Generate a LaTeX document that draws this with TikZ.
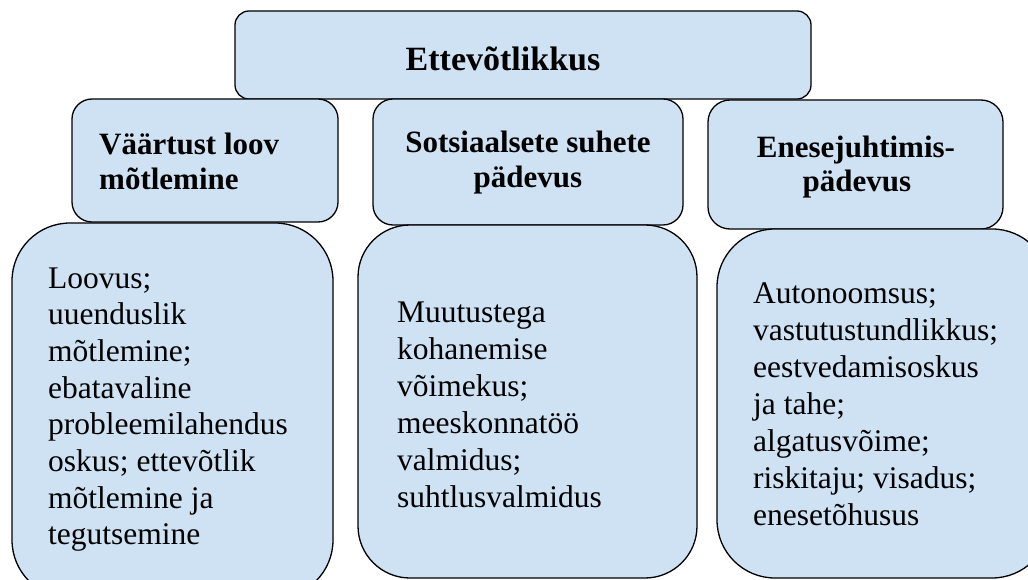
\documentclass[tikz,border=0pt]{standalone}
\usepackage{fontspec}
\setmainfont{Liberation Serif}
\definecolor{boxblue}{RGB}{207,226,243}
\tikzset{
  panel/.style={draw=black, line width=1.3pt, fill=boxblue, rectangle, inner sep=0pt, outer sep=0pt, anchor=north west},
  titletxt/.style={font=\fontsize{34}{40}\selectfont\bfseries, inner sep=0pt, anchor=base},
  headtxt/.style={font=\fontsize{31}{36}\selectfont\bfseries, inner sep=0pt},
  bodytxt/.style={font=\fontsize{31.5}{37}\selectfont, inner sep=0pt, anchor=base west}
}
\begin{document}
\begin{tikzpicture}[x=1pt, y=-1pt]
\useasboundingbox (0,0) rectangle (1028,580);
\clip (0,0) rectangle (1028,580);
% top box
\node[panel, rounded corners=14pt, minimum width=576pt, minimum height=88pt] (top) at (235,11) {};
\node[titletxt] (toptxt) at (503,71) {Ettevõtlikkus};
% headers
\node[panel, rounded corners=20pt, minimum width=266pt, minimum height=123pt] (h1) at (72,99) {};
\node[panel, rounded corners=20pt, minimum width=310pt, minimum height=126pt] (h2) at (373,99) {};
\node[panel, rounded corners=22pt, minimum width=295pt, minimum height=129pt] (h3) at (708,100) {};
% bodies
\node[panel, rounded corners=58pt, minimum width=321pt, minimum height=375pt] (b1) at (12,223) {};
\node[panel, rounded corners=52pt, minimum width=339pt, minimum height=353pt] (b2) at (358,225) {};
\node[panel, rounded corners=58pt, minimum width=333pt, minimum height=349pt] (b3) at (717,229) {};
% header texts
\node[headtxt, anchor=base west] (h1a) at (99,155) {Väärtust loov};
\node[headtxt, anchor=base west] (h1b) at (99,190) {mõtlemine};
\node[headtxt, anchor=base] (h2a) at (528,153) {Sotsiaalsete suhete};
\node[headtxt, anchor=base] (h2b) at (528,188) {pädevus};
\node[headtxt, anchor=base] (h3a) at (856,158) {Enesejuhtimis-};
\node[headtxt, anchor=base] (h3b) at (857,192) {pädevus};
% body texts
\foreach \t [count=\i] in {Loovus;, uuenduslik, mõtlemine;, ebatavaline, probleemilahendus, oskus; ettevõtlik, mõtlemine ja, tegutsemine}
  \node[bodytxt] (b1l\i) at (48,{288+36.7*(\i-1)}) {\t};
\foreach \t [count=\i] in {Muutustega, kohanemise, võimekus;, meeskonnatöö, valmidus;, suhtlusvalmidus}
  \node[bodytxt] (b2l\i) at (397,{322+37*(\i-1)}) {\t};
\foreach \t [count=\i] in {Autonoomsus;, vastutustundlikkus;, eestvedamisoskus, ja tahe;, algatusvõime;, riskitaju; visadus;, enesetõhusus}
  \node[bodytxt] (b3l\i) at (753,{303+37*(\i-1)}) {\t};
\end{tikzpicture}
\end{document}
